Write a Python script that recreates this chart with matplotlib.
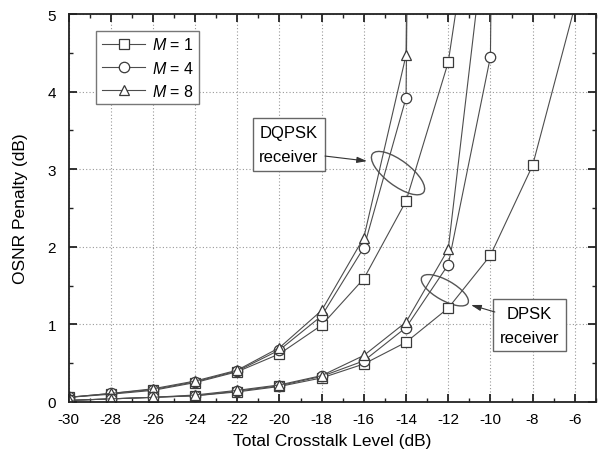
import matplotlib
matplotlib.use('Agg')
import matplotlib.pyplot as plt
import matplotlib.transforms as mtransforms
from matplotlib.patches import Ellipse

plt.rcParams['font.family'] = ['Liberation Sans', 'DejaVu Sans']
plt.rcParams['mathtext.fontset'] = 'custom'
plt.rcParams['mathtext.rm'] = 'Liberation Sans'
plt.rcParams['mathtext.it'] = 'Liberation Sans:italic'
plt.rcParams['axes.unicode_minus'] = False

## podatki (crosstalk v dB, OSNR penalty v dB)
xt = [-30, -28, -26, -24, -22, -20, -18, -16, -14, -12, -10, -8, -6]

dqpsk_m1 = [0.06, 0.10, 0.15, 0.25, 0.39, 0.62, 0.99, 1.59, 2.59, 4.38, 8.0]
dqpsk_m4 = [0.06, 0.11, 0.16, 0.26, 0.40, 0.67, 1.11, 1.99, 3.92, 60.0]
dqpsk_m8 = [0.06, 0.11, 0.17, 0.27, 0.41, 0.70, 1.18, 2.12, 4.47, 60.0]

dpsk_m1 = [0.02, 0.04, 0.06, 0.08, 0.13, 0.20, 0.31, 0.49, 0.77, 1.21, 1.89, 3.05, 5.1]
dpsk_m4 = [0.02, 0.04, 0.06, 0.08, 0.14, 0.21, 0.33, 0.53, 0.96, 1.77, 4.45, 60.0]
dpsk_m8 = [0.02, 0.04, 0.06, 0.09, 0.15, 0.22, 0.34, 0.60, 1.03, 1.97, 6.6]

legenda = [r'$\mathit{M}$ = 1', r'$\mathit{M}$ = 4', r'$\mathit{M}$ = 8']
xticks = [-30, -28, -26, -24, -22, -20, -18, -16, -14, -12, -10, -8, -6]
yticks = [0, 1, 2, 3, 4, 5]

fig = plt.figure(figsize=(6.09, 4.64), dpi=100)
ax = fig.add_axes([0.1125, 0.1315, 0.866, 0.836])

barva = '#4d4d4d'
stil = dict(color=barva, lw=0.8, mfc='white', mec='#3a3a3a', mew=0.9, ms=7.5)

# DQPSK
ax.plot(xt[:len(dqpsk_m1)], dqpsk_m1, marker='s', label=legenda[0], **stil)
ax.plot(xt[:len(dqpsk_m4)], dqpsk_m4, marker='o', label=legenda[1], **stil)
ax.plot(xt[:len(dqpsk_m8)], dqpsk_m8, marker='^', label=legenda[2], **stil)
# DPSK
ax.plot(xt[:len(dpsk_m1)], dpsk_m1, marker='s', **stil)
ax.plot(xt[:len(dpsk_m4)], dpsk_m4, marker='o', **stil)
ax.plot(xt[:len(dpsk_m8)], dpsk_m8, marker='^', **stil)

ax.set_xlim(-30, -5)
ax.set_ylim(0, 5)
ax.set_xticks(xticks)
ax.set_yticks(yticks)
ax.set_xticks([x + 1 for x in xticks], minor=True)
ax.set_yticks([y + 0.5 for y in yticks[:-1]], minor=True)
ax.tick_params(which='both', direction='in', top=True, right=True, labelsize=11, color='#222222')
ax.tick_params(which='major', length=6, width=1.3)
ax.tick_params(which='minor', length=3, width=1.0)
ax.tick_params(axis='x', which='major', pad=7)
ax.tick_params(axis='y', which='major', pad=9)
for s in ax.spines.values():
    s.set_linewidth(1.3)
    s.set_color('#222222')
ax.grid(True, which='major', ls=(0, (1, 2)), color='#999999', lw=0.8)
ax.set_axisbelow(True)

ax.set_xlabel('Total Crosstalk Level (dB)', fontsize=12.5, labelpad=5)
ax.set_ylabel('OSNR Penalty (dB)', fontsize=12.5, labelpad=14)

leg = ax.legend(loc='upper left', bbox_to_anchor=(0.053, 0.957), borderaxespad=0,
                fontsize=11.5, fancybox=False, edgecolor='#777777', framealpha=1,
                handlelength=2.7, handletextpad=0.4, labelspacing=0.45, borderpad=0.35)
leg.get_frame().set_linewidth(1.0)

# opombe
boks = dict(boxstyle='square,pad=0.4', fc='white', ec='#666666', lw=1.0)
ax.text(-19.55, 3.32, 'DQPSK\nreceiver', ha='center', va='center', fontsize=12,
        linespacing=1.75, bbox=boks)
ax.text(-8.15, 0.99, 'DPSK\nreceiver', ha='center', va='center', fontsize=12,
        linespacing=1.75, bbox=boks)

puscica = dict(arrowstyle='-|>,head_length=0.6,head_width=0.18', color='#333333', lw=0.8,
               shrinkA=0, shrinkB=0)
ax.annotate('', xy=(-15.85, 3.105), xytext=(-17.84, 3.17), arrowprops=puscica)
ax.annotate('', xy=(-10.92, 1.25), xytext=(-9.79, 1.16), arrowprops=puscica)

# elipse v pikslih okoli podatkovnega centra
for (cx, cy, w, h, kot) in [(-14.38, 2.95, 0.64, 0.25, -37), (-12.16, 1.44, 0.53, 0.20, -29.5)]:
    tr = fig.dpi_scale_trans + mtransforms.ScaledTranslation(cx, cy, ax.transData)
    ax.add_patch(Ellipse((0, 0), w, h, angle=kot, transform=tr, fill=False,
                         ec='#555555', lw=1.0))

plt.savefig('out.png', dpi=100)
